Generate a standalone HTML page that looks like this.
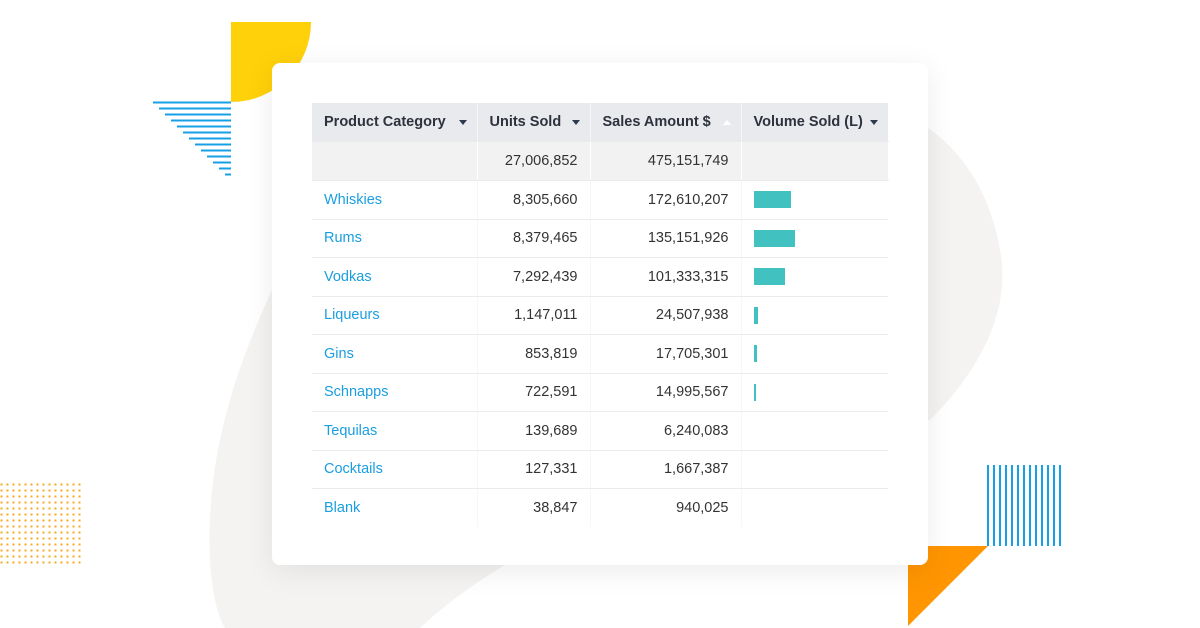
<!DOCTYPE html>
<html><head><style>
body{margin:0;width:1200px;height:628px;background:#fff;position:relative;overflow:hidden;font-family:"Liberation Sans",sans-serif}
.abs{position:absolute}
.card{left:272px;top:63px;width:656px;height:502px;background:#fff;border-radius:8px;box-shadow:0 6px 30px rgba(0,0,0,0.08)}
table{position:absolute;left:312px;top:103px;border-collapse:collapse;font-size:14.5px;color:#333;table-layout:fixed}
td,th{height:38.5px;padding:0 12px;border-bottom:1.5px solid #ebebeb;border-right:1px solid #f7f7f7;box-sizing:border-box}
td:last-child,th:last-child{border-right:none}
th{background:#e9eaee;text-align:left;font-weight:bold;color:#2d323c;height:38.5px;border-right:1.5px solid #f6f6f6;position:relative}
th .a{position:absolute;right:10px;top:17px;width:0;height:0;border-left:4.5px solid transparent;border-right:4.5px solid transparent;border-top:5px solid #2d3a4e}
tr.tot td{background:#f2f2f3;height:39px;border-right:1.5px solid #fff}
td.n{text-align:right}
td.l{color:#1a9ee0}
.bar{height:17px;background:#41c1bf}
</style></head><body>
<svg class="abs" style="left:0;top:0" width="1200" height="628">
<path d="M272 290 C240 360 205 450 210 560 C212 600 220 620 225 628 L420 628 C450 600 480 580 505 565 L930 420 C990 360 1010 300 1000 250 C990 190 960 150 928 128 Z" fill="#f4f3f1"/>
<path d="M231 22 L311 22 A80 80 0 0 1 231 102 Z" fill="#ffd10a"/>
<g stroke="#17a0e6" stroke-width="2">
<line x1="153" y1="102.5" x2="231" y2="102.5"/><line x1="159" y1="108.5" x2="231" y2="108.5"/><line x1="165" y1="114.5" x2="231" y2="114.5"/><line x1="171" y1="120.5" x2="231" y2="120.5"/><line x1="177" y1="126.5" x2="231" y2="126.5"/><line x1="183" y1="132.5" x2="231" y2="132.5"/><line x1="189" y1="138.5" x2="231" y2="138.5"/><line x1="195" y1="144.5" x2="231" y2="144.5"/><line x1="201" y1="150.5" x2="231" y2="150.5"/><line x1="207" y1="156.5" x2="231" y2="156.5"/><line x1="213" y1="162.5" x2="231" y2="162.5"/><line x1="219" y1="168.5" x2="231" y2="168.5"/><line x1="225" y1="174.5" x2="231" y2="174.5"/>
</g>
<g stroke="#17a0e6" stroke-width="2">
<line x1="988" y1="465" x2="988" y2="546"/><line x1="994" y1="465" x2="994" y2="546"/><line x1="1000" y1="465" x2="1000" y2="546"/><line x1="1006" y1="465" x2="1006" y2="546"/><line x1="1012" y1="465" x2="1012" y2="546"/><line x1="1018" y1="465" x2="1018" y2="546"/><line x1="1024" y1="465" x2="1024" y2="546"/><line x1="1030" y1="465" x2="1030" y2="546"/><line x1="1036" y1="465" x2="1036" y2="546"/><line x1="1042" y1="465" x2="1042" y2="546"/><line x1="1048" y1="465" x2="1048" y2="546"/><line x1="1054" y1="465" x2="1054" y2="546"/><line x1="1060" y1="465" x2="1060" y2="546"/>
</g>
<path d="M908 546 L988 546 L908 626 Z" fill="#ff9500"/>
<defs><pattern id="d" x="0" y="483" width="6" height="6" patternUnits="userSpaceOnUse"><rect x="0.5" y="0.5" width="2" height="2" fill="#f9a825"/></pattern></defs>
<rect x="0" y="483" width="82" height="82" fill="url(#d)"/>
</svg>
<div class="abs card"></div>
<table>
<colgroup><col style="width:165px"><col style="width:113px"><col style="width:151px"><col style="width:147px"></colgroup>
<tr><th>Product Category<span class="a"></span></th><th>Units Sold<span class="a"></span></th><th>Sales Amount $<span class="a" style="border-top:none;border-bottom:5px solid #fff"></span></th><th>Volume Sold (L)<span class="a"></span></th></tr>
<tr class="tot"><td></td><td class="n">27,006,852</td><td class="n">475,151,749</td><td></td></tr>
<tr><td class="l">Whiskies</td><td class="n">8,305,660</td><td class="n">172,610,207</td><td><div class="bar" style="width:37px"></div></td></tr>
<tr><td class="l">Rums</td><td class="n">8,379,465</td><td class="n">135,151,926</td><td><div class="bar" style="width:41px"></div></td></tr>
<tr><td class="l">Vodkas</td><td class="n">7,292,439</td><td class="n">101,333,315</td><td><div class="bar" style="width:31px"></div></td></tr>
<tr><td class="l">Liqueurs</td><td class="n">1,147,011</td><td class="n">24,507,938</td><td><div class="bar" style="width:4px"></div></td></tr>
<tr><td class="l">Gins</td><td class="n">853,819</td><td class="n">17,705,301</td><td><div class="bar" style="width:3px"></div></td></tr>
<tr><td class="l">Schnapps</td><td class="n">722,591</td><td class="n">14,995,567</td><td><div class="bar" style="width:2px"></div></td></tr>
<tr><td class="l">Tequilas</td><td class="n">139,689</td><td class="n">6,240,083</td><td></td></tr>
<tr><td class="l">Cocktails</td><td class="n">127,331</td><td class="n">1,667,387</td><td></td></tr>
<tr><td class="l" style="border-bottom:none">Blank</td><td class="n" style="border-bottom:none">38,847</td><td class="n" style="border-bottom:none">940,025</td><td style="border-bottom:none"></td></tr>
</table>
</body></html>
